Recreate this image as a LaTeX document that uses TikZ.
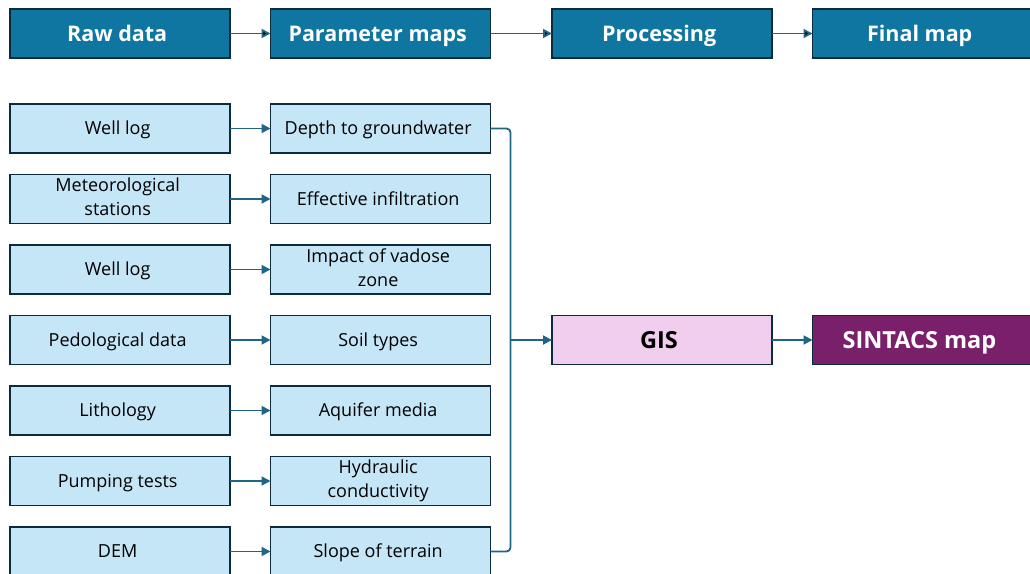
\documentclass[tikz,border=0pt]{standalone}
\usepackage{fontspec}
\setmainfont{Open Sans}
\usetikzlibrary{matrix,arrows.meta,calc}
\definecolor{headblue}{HTML}{0E76A0}
\definecolor{lightblue}{HTML}{C5E6F6}
\definecolor{boxline}{HTML}{0D2B3E}
\definecolor{linkblue}{HTML}{1F6587}
\definecolor{gispink}{HTML}{F2CEEE}
\definecolor{mapplum}{HTML}{7A1F6A}
\newcommand{\twoline}[2]{\begin{tabular}{@{}c@{}}#1\\#2\end{tabular}}

\begin{document}
\begin{tikzpicture}[x=1pt,y=1pt,
    box/.style={draw=boxline, line width=1.8pt, minimum width=220pt,
      minimum height=49pt, inner sep=2pt, align=center, anchor=center},
    pair/.style={text height={}, text depth={}, inner sep=0pt},
    head/.style={box, fill=headblue, text=white, text height=20pt,
      text depth=5pt, font=\fontsize{21.5}{24}\selectfont\bfseries},
    src/.style={box, fill=lightblue, text height=17pt, text depth=4.2pt,
      font=\fontsize{18}{24}\selectfont},
    gis/.style={box, fill=gispink, text=black, text height=22pt,
      text depth=5.2pt, font=\fontsize{23.5}{26}\selectfont\bfseries},
    sintacs/.style={gis, fill=mapplum, text=white},
    link/.style={draw=linkblue, line width=1.8pt,
      -{Triangle[length=9pt,width=9pt]}}]
    \useasboundingbox (0,0) rectangle (1030,-573);

    \matrix(m)[matrix of nodes, nodes={src}, row sep=19.7pt,
      column sep=38.7pt, inner sep=0pt, outer sep=0pt,
      anchor=north west] at (9.1,-8.1) {
      |[head]| Raw data & |[head]| Parameter maps &[21pt]
        |[head]| Processing & |[head]| Final map \\[24.5pt]
      Well log & Depth to groundwater & & \\
      |[pair]| \twoline{Meteorological}{stations} & Effective infiltration & & \\
      Well log & |[pair]| \twoline{Impact of vadose}{zone} & & \\
      Pedological data & Soil types & |[gis]| GIS & |[sintacs]| SINTACS map \\
      Lithology & Aquifer media & & \\
      Pumping tests & |[pair]| \twoline{Hydraulic}{conductivity} & & \\
      DEM & Slope of terrain & & \\
    };

    % top row
    \path[link]
      (m-1-1) edge (m-1-2)
      (m-1-2) edge (m-1-3)
      (m-1-3) edge (m-1-4);

    % raw data to parameter maps
    \foreach \r in {2,...,8}
      \draw[link] (m-\r-1) -- (m-\r-2);

    % collector line into GIS
    \coordinate (bus) at ($(m-5-2.east)+(20,0)$);
    \draw[link, -, rounded corners=4pt]
      (m-2-2.east) -| (bus) |- (m-8-2.east);
    \draw[link] (bus) -- (m-5-3);
    \draw[link] (m-5-3) -- (m-5-4);
  \end{tikzpicture}
\end{document}
